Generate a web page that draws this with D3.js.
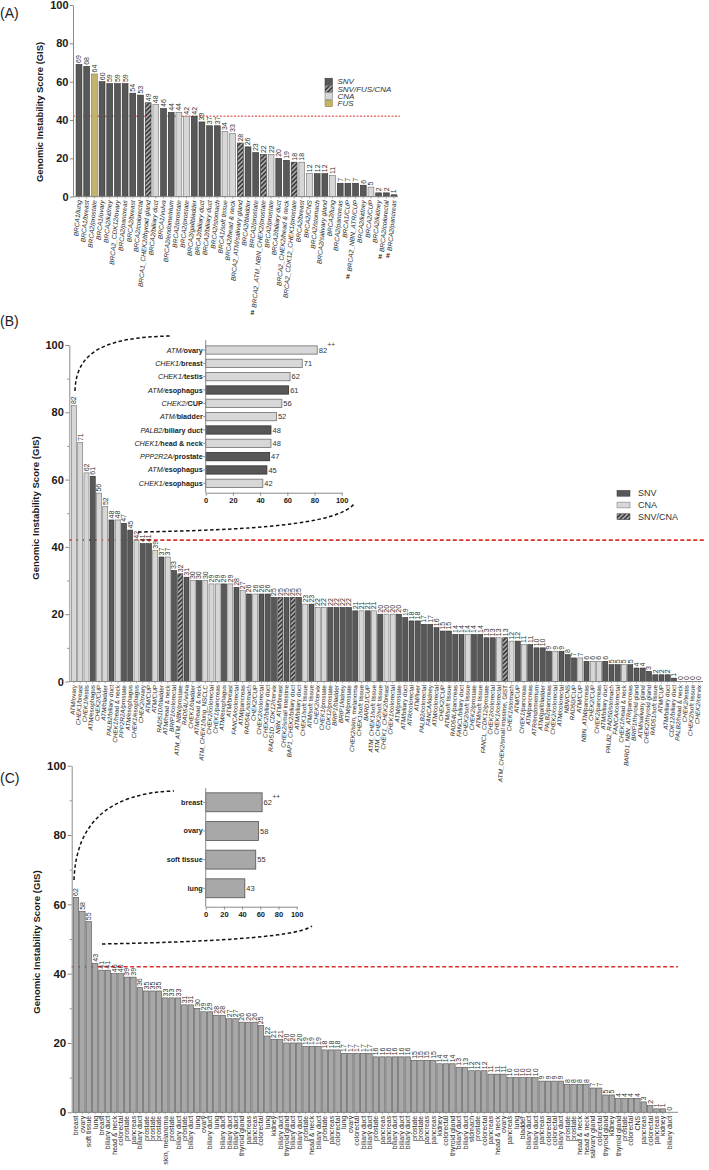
<!DOCTYPE html>
<html><head><meta charset="utf-8">
<script src="https://cdn.jsdelivr.net/npm/d3@7"></script>
<style>body{margin:0;background:#fff}</style>
</head><body>
<script>
// ---------------- DATA ----------------
const ticksY = [0,20,40,60,80,100];
const minorY = [10,30,50,70,90];
const threshold = 42;

// Panel A (BRCA1/2)
const catsA = ["BRCA1/lung","BRCA1/breast","BRCA2/prostate","BRCA1/ovary","BRCA2/kidney","BRCA2_CDK12/ovary","BRCA2/pancreas","BRCA2/breast","BRCA2/colorectal","BRCA1_CHEK2/thyroid gland","BRCA2/biliary duct","BRCA1/vulva","BRCA2/endometrium","BRCA2/prostate","BRCA2/prostate","BRCA2/gallbladder","BRCA2/biliary duct","BRCA2/biliary duct","BRCA2/stomach","BRCA1/soft tissue","BRCA2/head & neck","BRCA2_ATM/salivary gland","BRCA2/bladder","BRCA2/prostate","BRCA2_ATM_NBN_CHEK2/prostate","BRCA2/prostate","BRCA2/biliary duct","BRCA2_CHEK2/head & neck","BRCA2_CDK12_CHEK1/prostate","BRCA2/breast","BRCA2/CNS","BRCA2/stomach","BRCA2/salivary gland","BRCA2/lung","BRCA2/pancreas","BRCA1/CUP","BRCA2_NBN_ATR/CUP","BRCA2/kidney","BRCA2/CUP","BRCA2/kidney","BRCA2/colorectal","BRCA2/pancreas"];
const valsA = [69,68,64,60,59,59,59,54,53,49,48,46,44,44,42,42,39,37,37,34,33,28,26,23,22,22,20,19,18,18,12,12,12,11,7,7,7,6,5,2,2,1];
const typesA = ["S","S","F","S","S","S","S","S","S","H","C","S","S","C","C","S","S","S","S","C","C","H","S","S","H","C","S","S","H","C","C","S","S","C","S","S","S","S","C","S","S","S"];
const hashA = [24,36,40,41];
const legendA = [["S","SNV"],["H","SNV/FUS/CNA"],["C","CNA"],["F","FUS"]];

// Panel B (non-BRCA HRR genes)
const catsB = ["ATM/ovary","CHEK1/breast","CHEK1/testis","ATM/esophagus","CHEK2/CUP","ATM/bladder","PALB2/biliary duct","CHEK1/head & neck","PPP2R2A/prostate","ATM/esophagus","CHEK1/esophagus","CHEK2/ovary","ATM/CUP","ATM/CUP","RAD51D/bladder","ATM/head & neck","BRIP1/colorectal","ATM_ATM_NBN/prostate","RAD54L/vulva","CHEK1/bladder","ATM/head & neck","ATM_CHEK1/lung_NSCLC","CHEK2/colorectal","CHEK1/pancreas","ATM/esophagus","ATM/breast","FANCA/colorectal","ATM/pancreas","RAD54L/stomach","CHEK2/CUP","CHEK2/colorectal","CHEK2/biliary duct","RAD51D_CDK12/cervix","NBN_ATM/breast","CHEK2/small intestine","BAP1_CHEK2/biliary duct","ATM/biliary duct","CHEK1/soft tissue","ATM/soft tissue","CHEK2/cervix","CHEK1/prostate","CDK12/prostate","BRIP1/bladder","BRIP1/kidney","ATM/prostate","CHEK2/skin, melanoma","CHEK1/soft tissue","BARD1/CUP","ATM_CHEK1/soft tissue","ATM_CHEK2/soft tissue","CHEK1_CHEK2/breast","CHEK1/colorectal","ATM/prostate","ATM/biliary duct","ATR/colorectal","ATM/liver","PALB2/colorectal","FANCA/kidney","ATM/colorectal","CHEK2/CUP","ATM/soft tissue","RAD54L/pancreas","FANCL/biliary duct","CHEK2/soft tissue","CHEK2/prostate","ATM/soft tissue","FANCL_CDK12/prostate","CHEK2/colorectal","CHEK1/colorectal","ATM_CHEK2/small intestine, GIST","CHEK1/stomach","ATM/CUP","CHEK1/pancreas","ATM/pancreas","ATR/endometrium","ATM/gallbladder","PALB2/pancreas","CHEK2/colorectal","ATM/colorectal","NBN/CNS","RAD50/CUP","ATM/CUP","NBN_ATM/pancreas","CHEK2/CUP","CHEK2/pancreas","ATM/biliary duct","PALB2_RAD50/stomach","FANCA/colorectal","CHEK1/head & neck","BARD1_NBN_ATR/pancreas","BRIP1/thyroid gland","ATM/salivary gland","CHEK2/thyroid gland","RAD51/soft tissue","ATM/CUP","ATM/biliary duct","CDK12/biliary duct","PALB2/head & neck","CHEK2/testis","CHEK2/soft tissue","CHEK2/cervix"];
const valsB = [82,71,62,61,56,52,48,48,47,45,42,41,41,39,37,37,33,32,31,30,30,30,29,29,29,29,28,27,26,26,26,26,25,25,25,25,25,23,23,22,22,22,22,22,22,21,21,21,21,20,20,20,20,19,18,18,17,17,16,15,15,14,14,14,14,14,13,13,13,13,12,12,11,11,10,10,9,9,9,8,7,7,6,6,6,6,5,5,5,5,4,4,3,2,2,2,1,0,0,0,0];
const typesB = ["C","C","C","S","C","C","S","C","S","S","C","S","S","C","S","C","S","H","S","C","S","C","C","C","S","C","S","C","S","C","S","S","S","H","S","H","S","C","S","C","C","S","S","S","S","S","C","S","C","S","C","C","S","S","S","S","S","S","S","S","S","S","S","C","S","S","S","S","C","H","C","S","C","S","S","S","S","C","S","S","S","C","S","C","C","S","S","S","C","S","S","S","S","S","S","S","S","S","S","S","S"];
const legendB = [["S","SNV"],["C","CNA"],["H","SNV/CNA"]];

// Panel B inset (top 11)
const insetCatsB = ["ATM/ovary","CHEK1/breast","CHEK1/testis","ATM/esophagus","CHEK2/CUP","ATM/bladder","PALB2/biliary duct","CHEK1/head & neck","PPP2R2A/prostate","ATM/esophagus","CHEK1/esophagus"];
const insetValsB = [82,71,62,61,56,52,48,48,47,45,42];
const insetTypesB = ["C","C","C","S","C","C","S","C","S","S","C"];

// Panel C (wild type tissues)
const catsC = ["breast","ovary","soft tissue","lung","breast","biliary duct","head & neck","colorectal","prostate","pancreas","biliary duct","prostate","prostate","prostate","skin, melanoma","prostate","biliary duct","prostate","biliary duct","lung","ovary","biliary duct","lung","biliary duct","biliary duct","biliary duct","thyroid gland","pancreas","pancreas","colorectal","lung","kidney","biliary duct","thyroid gland","biliary duct","biliary duct","prostate","head & neck","biliary duct","prostate","pancreas","colorectal","lung","ovary","colorectal","biliary duct","biliary duct","prostate","pancreas","pancreas","biliary duct","biliary duct","biliary duct","prostate","prostate","pancreas","pancreas","kidney","colorectal","thyroid gland","biliary duct","biliary duct","stomach","prostate","colorectal","pancreas","head & neck","ovary","pancreas","lung","bladder","biliary duct","biliary duct","pancreas","colorectal","colorectal","biliary duct","prostate","prostate","head & neck","head & neck","salivary gland","colorectal","thyroid gland","kidney","thyroid gland","prostate","colorectal","CNS","pancreas","colorectal","pancreas","kidney","biliary duct"];
const valsC = [62,58,55,43,41,41,40,40,39,39,36,35,35,35,33,33,33,31,31,30,29,29,28,28,27,27,26,26,26,25,22,21,21,20,20,20,19,19,19,18,18,18,17,17,17,17,17,16,16,16,16,16,16,15,15,15,15,14,14,14,13,13,12,12,12,11,11,11,10,10,10,10,10,9,9,9,9,8,8,8,8,7,7,5,5,4,4,4,4,3,2,1,1,0];
const insetCatsC = ["breast","ovary","soft tissue","lung"];
const insetValsC = [62,58,55,43];

// ---------------- STYLE ----------------
const FONT = "'Liberation Sans', Arial, Helvetica, sans-serif";
const FILL = {S:"#585858", C:"#d7d7d7", F:"#c3b46c", H:"url(#hatch)", G:"#a8a8a8"};
const STROKE = {S:"#303030", C:"#6e6e6e", F:"#857a40", H:"#303030", G:"#505050"};
const AXC = "#8a8a8a";
const RED = "#d9302a";

const svg = d3.select("body").append("svg").attr("width",709).attr("height",1170)
  .style("font-family",FONT).style("background","#fff");
const defs = svg.append("defs");
const pat = defs.append("pattern").attr("id","hatch").attr("patternUnits","userSpaceOnUse")
  .attr("width",3.2).attr("height",3.2).attr("patternTransform","rotate(45)");
pat.append("rect").attr("width",3.2).attr("height",3.2).attr("fill","#3c3c3c");
pat.append("line").attr("x1",0.8).attr("y1",0).attr("x2",0.8).attr("y2",3.2).attr("stroke","#d8d8d8").attr("stroke-width",1.1);

function yAxis(g, x, y, fs, minor, tsize){
  const a = g.append("g").attr("transform",`translate(${x},0)`)
    .call(d3.axisLeft(y).tickValues(ticksY).tickSize(tsize).tickSizeOuter(0).tickPadding(1.5));
  a.attr("font-family",FONT).attr("font-size",fs);
  a.select(".domain").attr("stroke",AXC);
  a.selectAll(".tick line").attr("stroke",AXC);
  a.selectAll(".tick text").attr("font-weight","bold").attr("fill","#1a1a1a");
  if(minor){
    const m = g.append("g").attr("transform",`translate(${x},0)`)
      .call(d3.axisLeft(y).tickValues(minorY).tickSize(2).tickSizeOuter(0).tickFormat(""));
    m.select(".domain").remove();
    m.selectAll(".tick line").attr("stroke",AXC);
  }
}

function yTitle(x, yc, fs){
  svg.append("text").attr("transform",`translate(${x},${yc}) rotate(-90)`)
    .attr("text-anchor","middle").attr("font-weight","bold").attr("font-size",fs)
    .attr("fill","#1a1a1a").text("Genomic Instability Score (GIS)");
}

function mainBars(o){
  const g = svg.append("g");
  const n = o.vals.length;
  const step = (o.last - o.first)/(n-1);
  const x = d3.scaleBand().domain(d3.range(n)).range([o.first-step/2, o.last+step/2])
    .paddingInner(o.pad).paddingOuter(o.pad/2);
  const y = o.y;
  const y0 = y(0);
  g.append("line").attr("x1",o.axisX).attr("x2",o.redEnd).attr("y1",y(threshold)).attr("y2",y(threshold))
    .attr("stroke",RED).attr("stroke-width",o.redW).attr("stroke-dasharray",o.redDash);
  g.selectAll("rect.bar").data(o.vals).join("rect").attr("class","bar")
    .attr("x",(d,i)=>x(i)).attr("width",x.bandwidth())
    .attr("y",d=>y(d)).attr("height",d=>y0-y(d))
    .attr("fill",(d,i)=>FILL[o.types ? o.types[i] : "G"])
    .attr("stroke",(d,i)=>STROKE[o.types ? o.types[i] : "G"]).attr("stroke-width",0.6);
  g.append("line").attr("x1",o.axisX).attr("x2",o.axisEnd).attr("y1",y0).attr("y2",y0).attr("stroke",AXC).attr("stroke-width",1);
  g.selectAll("line.xt").data(o.vals).join("line").attr("class","xt")
    .attr("x1",(d,i)=>x(i)+x.bandwidth()/2).attr("x2",(d,i)=>x(i)+x.bandwidth()/2)
    .attr("y1",y0).attr("y2",y0+2).attr("stroke",AXC).attr("stroke-width",0.6);
  g.selectAll("text.val").data(o.vals).join("text").attr("class","val")
    .attr("transform",(d,i)=>`translate(${x(i)+x.bandwidth()/2},${y(d)-1.5}) rotate(-90)`)
    .attr("dy","0.35em").attr("font-size",o.valFs).attr("fill","#333").text(d=>d);
  const rad = o.rot*Math.PI/180;
  o.cats.forEach((c,i)=>{
    const cx = x(i)+x.bandwidth()/2, cy = y0+3.5;
    const t = g.append("text").attr("transform",`translate(${cx},${cy}) rotate(${o.rot})`)
      .attr("text-anchor","end").attr("dy","0.35em").attr("font-size",o.labFs).attr("fill","#2a2a2a");
    const k = c.indexOf("/");
    if(o.plain || k<0){ t.text(c); }
    else {
      t.append("tspan").attr("font-style","italic").text(c.slice(0,k+1));
      t.append("tspan").attr("font-style",o.allItalic?"italic":"normal").text(c.slice(k+1));
    }
    if(o.hash && o.hash.includes(i)){
      const L = t.node().getComputedTextLength();
      const sx = cx - L*Math.cos(rad), sy = cy - L*Math.sin(rad);
      g.append("text").attr("x",sx-1.5).attr("y",sy+7).attr("text-anchor","middle")
        .attr("font-size",7).attr("font-weight","bold").attr("fill","#222").text("#");
    }
  });
  yAxis(g, o.axisX, y, o.tickFs, o.minor, o.tsize);
  return x;
}

// ---------------- PANEL A ----------------
const yA = d3.scaleLinear().domain([0,100]).range([196.7,5]);
mainBars({cats:catsA, vals:valsA, types:typesA, y:yA, first:79, last:394, pad:0.24,
  axisX:73, axisEnd:398, redEnd:400, redW:1, redDash:"2,1.5", rot:-85, labFs:6.6, valFs:7,
  allItalic:true, hash:hashA, tickFs:11, minor:false, tsize:3});
yTitle(43, 112, 9.4);
svg.append("text").attr("x",0).attr("y",18).attr("font-size",14).attr("fill","#222").text("(A)");
legendA.forEach((d,i)=>{
  const yc = 81.5 + i*7.3;
  svg.append("rect").attr("x",325).attr("y",yc-3.3).attr("width",7.5).attr("height",6.6)
    .attr("fill",FILL[d[0]]).attr("stroke",STROKE[d[0]]).attr("stroke-width",0.5);
  svg.append("text").attr("x",337.5).attr("y",yc).attr("dy","0.35em").attr("font-size",8)
    .attr("font-style","italic").attr("fill","#333").text(d[1]);
});

// ---------------- PANEL B ----------------
const yB = d3.scaleLinear().domain([0,100]).range([681.5,345]);
mainBars({cats:catsB, vals:valsB, types:typesB, y:yB, first:74, last:699, pad:0.2,
  axisX:69.3, axisEnd:703, redEnd:706, redW:1.6, redDash:"4,2.5", rot:-87, labFs:6.3, valFs:7,
  allItalic:false, tickFs:11, minor:true, tsize:4});
yTitle(39, 508, 9.6);
svg.append("text").attr("x",0).attr("y",326).attr("font-size",14).attr("fill","#222").text("(B)");
legendB.forEach((d,i)=>{
  const yc = 493.3 + i*11.7;
  svg.append("rect").attr("x",617).attr("y",yc-2.9).attr("width",13).attr("height",5.8)
    .attr("fill",FILL[d[0]]).attr("stroke",STROKE[d[0]]).attr("stroke-width",0.5);
  svg.append("text").attr("x",638).attr("y",yc).attr("dy","0.35em").attr("font-size",9)
    .attr("fill","#333").text(d[1]);
});

function inset(o){
  const g = svg.append("g");
  const n = o.vals.length;
  const step = (o.last-o.first)/(n-1);
  const yb = d3.scaleBand().domain(d3.range(n)).range([o.first-step/2,o.last+step/2])
    .paddingInner(o.pad).paddingOuter(o.pad/2);
  const x = d3.scaleLinear().domain([0,100]).range([o.x0,o.x1]);
  g.selectAll("rect").data(o.vals).join("rect")
    .attr("x",x(0)).attr("y",(d,i)=>yb(i)).attr("height",yb.bandwidth())
    .attr("width",d=>x(d)-x(0))
    .attr("fill",(d,i)=>FILL[o.types? o.types[i] : "G"])
    .attr("stroke",(d,i)=>STROKE[o.types? o.types[i] : "G"]).attr("stroke-width",0.8);
  const ax = g.append("g").attr("transform",`translate(0,${o.axisY})`)
    .call(d3.axisBottom(x).tickValues(ticksY).tickSize(3).tickSizeOuter(0).tickPadding(2));
  ax.attr("font-family",FONT).attr("font-size",o.tickFs);
  ax.select(".domain").attr("stroke",AXC);
  ax.selectAll(".tick line").attr("stroke",AXC);
  ax.selectAll(".tick text").attr("font-weight","bold").attr("fill","#1a1a1a");
  g.append("line").attr("x1",x(0)).attr("x2",x(0)).attr("y1",o.top).attr("y2",o.axisY).attr("stroke",AXC);
  o.cats.forEach((c,i)=>{
    const cy = yb(i)+yb.bandwidth()/2;
    g.append("line").attr("x1",x(0)-2.5).attr("x2",x(0)).attr("y1",cy).attr("y2",cy).attr("stroke",AXC);
    const t = g.append("text").attr("x",x(0)-3).attr("y",cy).attr("dy","0.35em").attr("text-anchor","end")
      .attr("font-size",o.labFs).attr("fill","#222");
    const k = c.indexOf("/");
    if(k<0){ t.attr("font-weight","bold").text(c); }
    else {
      t.append("tspan").attr("font-style","italic").text(c.slice(0,k+1));
      t.append("tspan").attr("font-weight","bold").text(c.slice(k+1));
    }
    const v = g.append("text").attr("x",x(o.vals[i])+1.5).attr("y",cy).attr("dy","0.35em")
      .attr("font-size",o.valFs).attr("fill","#333").text(o.vals[i]);
    if(i===0){
      const L = v.node().getComputedTextLength();
      g.append("text").attr("x",x(o.vals[i])+2+L).attr("y",cy-3).attr("font-size",o.valFs-1)
        .attr("fill","#333").text("++");
    }
  });
}
inset({cats:insetCatsB, vals:insetValsB, types:insetTypesB, first:350, last:483.3, pad:0.38,
  x0:205.7, x1:341.7, axisY:492.7, top:340, tickFs:7.5, labFs:7.2, valFs:7.5});

svg.append("path").attr("d","M75,391 C76,352 104,337 172,336").attr("fill","none")
  .attr("stroke","#111").attr("stroke-width",1.5).attr("stroke-dasharray","3.5,2.5");
svg.append("path").attr("d","M138,532 C250,530 336,525 354,504").attr("fill","none")
  .attr("stroke","#111").attr("stroke-width",1.5).attr("stroke-dasharray","3.5,2.5");

// ---------------- PANEL C ----------------
const yC = d3.scaleLinear().domain([0,100]).range([1112.3,765.7]);
mainBars({cats:catsC, vals:valsC, types:null, y:yC, first:76, last:669.3, pad:0.14,
  axisX:71.7, axisEnd:678, redEnd:678, redW:1.6, redDash:"4,2.5", rot:-90, labFs:7, valFs:7,
  plain:true, tickFs:11.5, minor:true, tsize:4});
yTitle(40, 942, 9.6);
svg.append("text").attr("x",0).attr("y",783).attr("font-size",14).attr("fill","#222").text("(C)");
inset({cats:insetCatsC, vals:insetValsC, types:null, first:802.3, last:888.3, pad:0.34,
  x0:205.7, x1:296.7, axisY:906.7, top:788, tickFs:7.5, labFs:7.2, valFs:7.5});
svg.append("path").attr("d","M74,880 C76,822 110,793 174,791").attr("fill","none")
  .attr("stroke","#111").attr("stroke-width",1.5).attr("stroke-dasharray","3.5,2.5");
svg.append("path").attr("d","M102,944 C200,942 296,938 312,926").attr("fill","none")
  .attr("stroke","#111").attr("stroke-width",1.5).attr("stroke-dasharray","3.5,2.5");
</script>
</body></html>
